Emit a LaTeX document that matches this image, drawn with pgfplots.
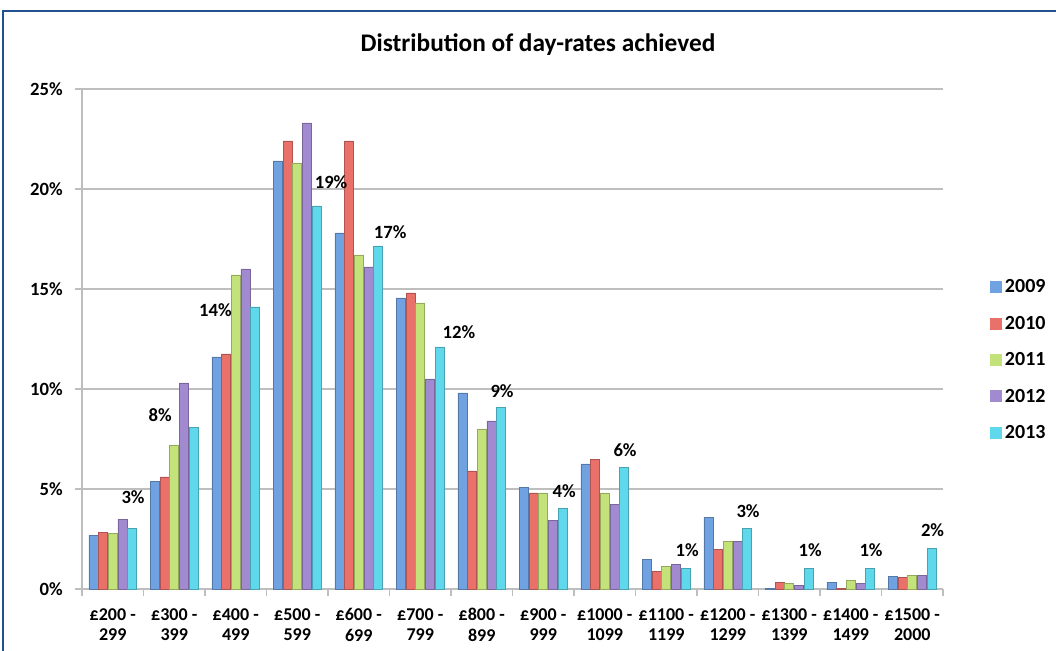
\documentclass[border=0pt]{standalone}
\usepackage{fontspec}
\setmainfont{Carlito}
\usepackage{pgfplots}
\usepackage{pgfplotstable}
\pgfplotsset{compat=1.18}

\definecolor{c09}{RGB}{112,162,226}
\definecolor{c10}{RGB}{234,112,106}
\definecolor{c11}{RGB}{196,226,122}
\definecolor{c12}{RGB}{162,138,208}
\definecolor{c13}{RGB}{96,216,236}
\definecolor{frameblue}{RGB}{35,80,145}
\definecolor{gridgray}{RGB}{190,190,190}

% share of day-rates per band, in percent
\pgfplotstableread{
x   y09   y10   y11   y12   y13
0   2.70  2.85  2.80  3.50  3.05
1   5.37  5.60  7.20  10.30 8.07
2   11.60 11.75 15.70 16.00 14.10
3   21.40 22.40 21.30 23.30 19.15
4   17.80 22.40 16.70 16.10 17.15
5   14.55 14.80 14.30 10.50 12.10
6   9.80  5.90  8.00  8.40  9.07
7   5.07  4.80  4.80  3.45  4.03
8   6.25  6.48  4.80  4.25  6.07
9   1.50  0.87  1.15  1.25  1.03
10  3.60  1.98  2.40  2.37  3.03
11  0.03  0.33  0.28  0.20  1.03
12  0.33  0.05  0.42  0.30  1.03
13  0.62  0.58  0.67  0.70  2.03
}\rates

% 2013 data labels and where they sit
\pgfplotstableread{
x     y     lab
0.33  4.60  3
0.77  8.70  8
1.67  13.95 14
3.55  20.35 19
4.51  17.85 17
5.63  12.85 12
6.33  9.90  9
7.34  4.90  4
8.33  6.95  6
9.34  1.95  1
10.33 3.90  3
11.34 1.95  1
12.33 1.95  1
13.33 2.95  2
}\labs

\pgfplotsset{
  cyl/.style n args={2}{ybar, bar width=6.75pt, bar shift=#1,
    draw=#2!75!black, line width=0.4pt, fill=#2},
}

\begin{document}
\begin{tikzpicture}
\useasboundingbox (0,0) rectangle (792pt,487.5pt);
\draw[frameblue, line width=2pt] (2.25pt,-2pt) -- (2.25pt,479.25pt) -- (794pt,479.25pt);

\begin{axis}[
  at={(61.5pt,45.75pt)}, anchor=south west,
  scale only axis,
  width=645.75pt, height=375pt,
  xmin=-0.5, xmax=13.5,
  ymin=0, ymax=25,
  axis x line*=bottom, axis y line*=left,
  axis line style={draw=gridgray, line width=1.5pt},
  ytick={0,5,10,15,20,25},
  yticklabels={0\%,5\%,10\%,15\%,20\%,25\%},
  ymajorgrids=true,
  grid style={draw=gridgray, line width=1.5pt},
  tick align=outside,
  major tick length=5pt,
  ytick style={draw=gridgray, line width=1pt},
  yticklabel style={font=\fontsize{14}{16}\selectfont\bfseries, xshift=-6pt},
  xtick={0,...,13},
  xtick style={draw=none},
  xticklabels={{£200 -\\299},{£300 -\\399},{£400 -\\499},{£500 -\\599},{£600 -\\699},{£700 -\\799},{£800 -\\899},{£900 -\\999},{£1000 -\\1099},{£1100 -\\1199},{£1200 -\\1299},{£1300 -\\1399},{£1400 -\\1499},{£1500 -\\2000}},
  xticklabel style={align=center, font=\fontsize{13.5}{15.5}\selectfont\bfseries, yshift=-6pt},
  extra x ticks={-0.5,0.5,...,13.5},
  extra x tick labels={},
  extra x tick style={xtick style={draw=gridgray, line width=1pt}, major tick length=5pt, grid=none},
  legend style={at={(1.05,0.458)}, anchor=west, draw=none, fill=none,
    font=\fontsize{15}{17}\selectfont\bfseries, row sep=12pt,
    legend cell align=left},
  legend image code/.code={\path[#1, draw=none] (0pt,-4.5pt) rectangle (9pt,4.5pt);},
  clip=false,
]
\addplot[cyl={-14.6pt}{c09}] table[x=x, y=y09]{\rates};
\addlegendentry{2009}
\addplot[cyl={-7.3pt}{c10}] table[x=x, y=y10]{\rates};
\addlegendentry{2010}
\addplot[cyl={0pt}{c11}] table[x=x, y=y11]{\rates};
\addlegendentry{2011}
\addplot[cyl={7.3pt}{c12}] table[x=x, y=y12]{\rates};
\addlegendentry{2012}
\addplot[cyl={14.6pt}{c13}] table[x=x, y=y13]{\rates};
\addlegendentry{2013}

\addplot[only marks, mark=none, forget plot,
  point meta=explicit symbolic,
  nodes near coords={\pgfplotspointmeta\%},
  every node near coord/.append style={anchor=center, font=\fontsize{14}{16}\selectfont\bfseries, inner sep=0pt}]
  table[x=x, y=y, meta=lab]{\labs};
\end{axis}

\node[font=\fontsize{19}{21}\selectfont\bfseries] at (403.5pt,453.75pt) {Distribution of day-rates achieved};
\end{tikzpicture}
\end{document}
